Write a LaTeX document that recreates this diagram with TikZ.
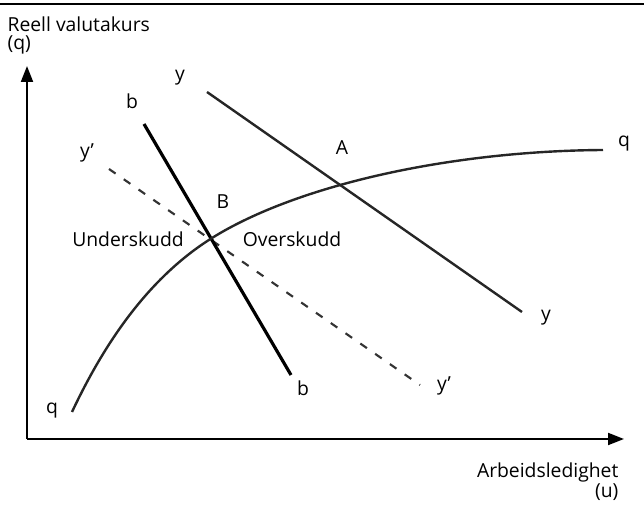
\documentclass[tikz,border=0pt]{standalone}
\usepackage{fontspec}
\setmainfont{Open Sans}
\usepackage{tikz}
\usetikzlibrary{arrows.meta,positioning,calc}

\begin{document}
\begin{tikzpicture}[x=0.75pt,y=-0.75pt,
  every node/.style={font=\fontsize{14.5}{13.5}\selectfont,inner sep=1pt},
  axis/.style={line width=1.5pt,-{Triangle[length=12pt,width=9pt]}},
  curve/.style={line width=1.8pt,black!85},
  bline/.style={line width=2.4pt},
  ydash/.style={line width=1.6pt,black!80,dash pattern=on 6pt off 7.5pt},
  lab/.style={anchor=center}]
 \useasboundingbox (0,0) rectangle (644,505);
 \draw[line width=1.5pt] (0,4) -- (644,4);
 \node[anchor=north west,align=left] (ylab) at (6,15) {Reell valutakurs\\(q)};
 \node[anchor=north east,align=right] (xlab) at (620,461) {Arbeidsledighet\\(u)};
 \coordinate (o) at (27,439);
 \coordinate (ytip) at (27,66);
 \coordinate (xtip) at (624,439);
 \draw[axis] (o) -- (ytip);
 \draw[axis] (o) -- (xtip);
 % y-line
 \coordinate (y1) at (207,92);
 \coordinate (y2) at (522,312);
 \node[lab] (ytop) at (180,78) {y};
 \node[lab] (ybot) at (546,318) {y};
 \draw[curve] (y1) -- (y2);
 % y'-line
 \coordinate (yp1) at (109,169);
 \coordinate (yp2) at (420,385);
 \node[lab] (yptop) at (87,153) {y’};
 \node[lab] (ypbot) at (444,386) {y’};
 \draw[ydash] (yp1) -- (yp2);
 % b-line
 \coordinate (b1) at (144,124);
 \coordinate (b2) at (291,375);
 \node[lab] (btop) at (132,101) {b};
 \node[lab] (bbot) at (303,388) {b};
 \draw[bline] (b1) -- (b2);
 % q-curve
 \coordinate (q1) at (72,412);
 \coordinate (qB) at (212,238);
 \coordinate (q2) at (603,150);
 \node[lab] (qlow) at (52,411) {q};
 \node[lab] (qhigh) at (624,144) {q};
 \draw[curve] (q1) .. controls (104,344) and (148,278) .. (qB)
   .. controls (297,185) and (450,151) .. (q2);
 \node[lab] (A) at (342,148) {A};
 \node[lab] (B) at (223,202) {B};
 \node[lab] (under) at (128,239) {Underskudd};
 \node[lab] (over) at (292,239) {Overskudd};
\end{tikzpicture}
\end{document}
